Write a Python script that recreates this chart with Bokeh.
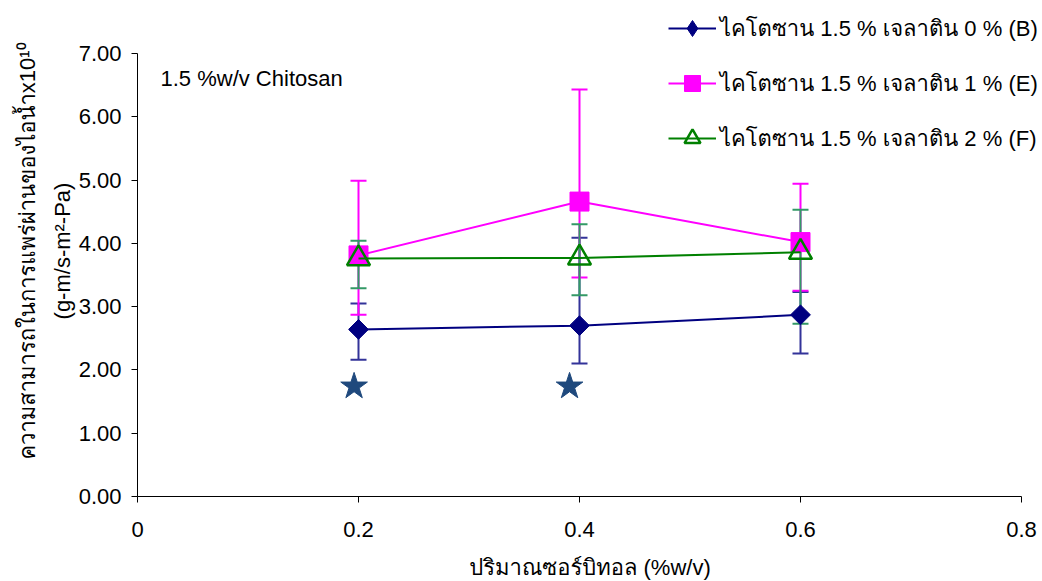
import math
from bokeh.plotting import figure
from bokeh.models import (ColumnDataSource, Whisker, TeeHead, Legend, LegendItem,
                          Range1d, FixedTicker, NumeralTickFormatter, Label)
from bokeh.embed import file_html
from bokeh.resources import INLINE

# ---- data ----
sorbitol = [0.2, 0.4, 0.6]

b_mean = [2.64, 2.70, 2.87]
b_upper = [3.05, 4.09, 3.23]
b_lower = [2.16, 2.10, 2.26]

e_mean = [3.81, 4.66, 4.02]
e_upper = [4.99, 6.43, 4.94]
e_lower = [2.87, 3.46, 3.25]

f_mean = [3.76, 3.77, 3.86]
f_upper = [4.04, 4.30, 4.53]
f_lower = [3.29, 3.18, 2.73]

star_x = [0.196, 0.391]
star_y = [1.74, 1.74]

series_names = ["ไคโตซาน 1.5 % เจลาติน 0 % (B)",
                "ไคโตซาน 1.5 % เจลาติน 1 % (E)",
                "ไคโตซาน 1.5 % เจลาติน 2 % (F)"]

x_ticks = [0, 0.2, 0.4, 0.6, 0.8]
x_tick_labels = ["0", "0.2", "0.4", "0.6", "0.8"]
y_ticks = [0, 1, 2, 3, 4, 5, 6, 7]

annotation_text = "1.5 %w/v Chitosan"
x_title = "ปริมาณซอร์บิทอล (%w/v)"
y_title = "ความสามารถในการแพร่ผ่านของไอน้ำx10¹⁰\n(g-m/s-m²-Pa)"

FONT = "'Liberation Sans', Tahoma, Loma, Garuda, 'Noto Sans Thai Looped', sans-serif"
FS = "22px"

# axes: x 0..0.8 over 884 px, y 0..7 over 443 px; the frame is extended
# (top and right) so that the legend, which sits outside the axes, is not clipped
PX_PER_X = 884 / 0.8
PX_PER_Y = 443 / 7
X_RIGHT = 0.8 + 21 / PX_PER_X
Y_TOP = 7 + 48 / PX_PER_Y

p = figure(width=1042, height=581, frame_width=905, frame_height=491,
           min_border_left=137, min_border_right=0, min_border_top=5, min_border_bottom=85,
           output_backend="svg", toolbar_location=None,
           x_range=Range1d(0, X_RIGHT), y_range=Range1d(0, Y_TOP))
p.outline_line_color = None
p.xgrid.visible = False
p.ygrid.visible = False
p.background_fill_color = "white"
p.border_fill_color = "white"

for ax in (p.xaxis[0], p.yaxis[0]):
    ax.axis_line_color = "black"
    ax.axis_line_width = 1
    ax.major_tick_line_color = "black"
    ax.major_tick_in = 0
    ax.major_tick_out = 6
    ax.minor_tick_line_color = None
    ax.major_label_text_font = FONT
    ax.major_label_text_font_size = FS
    ax.major_label_text_color = "black"
    ax.axis_label_text_font = FONT
    ax.axis_label_text_font_size = FS
    ax.axis_label_text_font_style = "normal"
    ax.axis_label_text_color = "black"

p.xaxis.ticker = FixedTicker(ticks=x_ticks)
p.xaxis.bounds = (x_ticks[0], x_ticks[-1])
p.xaxis.major_label_overrides = {t: l for t, l in zip(x_ticks, x_tick_labels)}
p.xaxis.major_label_standoff = 19
p.xaxis.axis_label = x_title
p.xaxis.axis_label_standoff = 15

p.yaxis.ticker = FixedTicker(ticks=y_ticks)
p.yaxis.bounds = (y_ticks[0], y_ticks[-1])
p.yaxis.formatter = NumeralTickFormatter(format="0.00")
p.yaxis.major_label_standoff = 10
p.yaxis.axis_label = y_title
p.yaxis.axis_label_standoff = 1
p.yaxis.axis_label_text_line_height = 1.4

colors_line = ["#000080", "#FF00FF", "#008000"]
colors_err = ["#333399", "#FF00FF", "#339966"]
means = [b_mean, e_mean, f_mean]
uppers = [b_upper, e_upper, f_upper]
lowers = [b_lower, e_lower, f_lower]

for m, u, l, c in zip(means, uppers, lowers, colors_err):
    src = ColumnDataSource(dict(x=sorbitol, upper=u, lower=l))
    w = Whisker(source=src, base="x", upper="upper", lower="lower",
                line_color=c, line_width=2,
                upper_head=TeeHead(size=16, line_color=c, line_width=2),
                lower_head=TeeHead(size=16, line_color=c, line_width=2))
    p.add_layout(w)

items = []
# B  (a diamond marker for the legend, covered in the plot by a 45-degree square)
lb = p.line(sorbitol, b_mean, line_color=colors_line[0], line_width=2)
mb_leg = p.scatter(sorbitol, b_mean, marker="diamond", size=18,
                   fill_color=colors_line[0], line_color=colors_line[0])
p.scatter(sorbitol, b_mean, marker="square", size=14, angle=math.pi / 4,
          fill_color=colors_line[0], line_color=colors_line[0])
items.append(LegendItem(label=series_names[0], renderers=[lb, mb_leg]))
# E
le = p.line(sorbitol, e_mean, line_color=colors_line[1], line_width=2)
me = p.scatter(sorbitol, e_mean, marker="square", size=19,
               fill_color=colors_line[1], line_color=colors_line[1])
items.append(LegendItem(label=series_names[1], renderers=[le, me]))
# F
lf = p.line(sorbitol, f_mean, line_color=colors_line[2], line_width=2)
mf = p.scatter(sorbitol, f_mean, marker="triangle", size=23,
               fill_color=None, line_color=colors_line[2], line_width=2.5)
items.append(LegendItem(label=series_names[2], renderers=[lf, mf]))

p.scatter(star_x, star_y, marker="star", size=28, fill_color="#1F497D", line_color="#1F497D")

p.add_layout(Label(x=23, y=418, x_units="screen", y_units="screen", text=annotation_text,
                   text_font=FONT, text_font_size=FS, text_baseline="middle",
                   text_color="black"))

# row height 40 + spacing 15 -> 55 px between rows; legend top 8 px below page top
legend = Legend(items=items, location=(531, 338), orientation="vertical",
                glyph_width=48, glyph_height=40, label_height=40, spacing=15,
                label_standoff=4, padding=0, margin=0,
                label_text_font=FONT, label_text_font_size=FS, label_text_color="black",
                border_line_color=None, background_fill_alpha=0)
p.add_layout(legend, "center")

open("out.html", "w").write(file_html(p, INLINE))
